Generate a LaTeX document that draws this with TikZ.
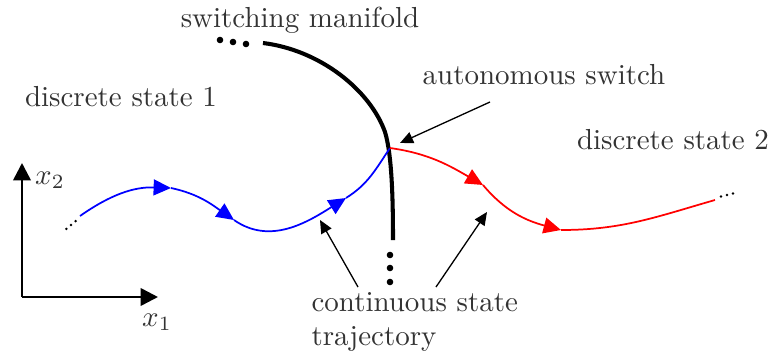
\documentclass[tikz,border=0pt]{standalone}
\usetikzlibrary{arrows.meta}
\begin{document}
\begin{tikzpicture}[x=0.01213cm,y=0.01213cm,
    lbl/.style={text=black!80},
    axis/.style={line width=0.9pt,-{Triangle[length=6pt,width=6pt]}},
    traj/.style={line width=0.6pt},
    tip/.style={-{Triangle[length=6pt,width=5.5pt]}},
    annot/.style={line width=0.45pt,-{Triangle[length=4.5pt,width=4pt]}},
    manifold/.style={line width=1.4pt}]
    \useasboundingbox (0,0) rectangle (771,350);

    % Cartesian axes
    \coordinate (O) at (22,53);
    \coordinate (xend) at (158,53);
    \coordinate (yend) at (22,187);
    \draw[axis] (O) -- (xend);
    \draw[axis] (O) -- (yend);
    \node[lbl] (xlbl) at (157,28) {$x_1$};
    \node[lbl] (ylbl) at (50,170) {$x_2$};

    % Switching manifold
    \draw[manifold] (263,307) .. controls (320,300) and (370,260) .. (385,218)
        .. controls (392,195) and (393,150) .. (393,110);
    \foreach \p in {(220,310),(233,308),(246,306),(390,95),(390,82),(390,68)}
        \fill \p circle (3.3);
    \node[lbl] (manlbl) at (300,330) {switching manifold};

    % Continuous state trajectory
    \coordinate (A) at (80,134);
    \coordinate (B) at (171,162);
    \coordinate (C) at (234,130);
    \coordinate (D) at (346,152);
    \coordinate (S) at (390,202);
    \coordinate (E) at (483,165);
    \coordinate (F) at (561,120);
    \coordinate (G) at (715,150);
    \draw[traj,blue,tip] (A) to[out=35,in=178] (B);
    \draw[traj,blue,tip] (B) to[out=-12,in=145] (C);
    \draw[traj,blue,tip] (C) to[out=-35,in=212] (D);
    \draw[traj,blue] (D) to[out=32,in=236] (S);
    \draw[traj,red,tip] (S) to[out=-8,in=150] (E);
    \draw[traj,red,tip] (E) to[out=-50,in=165] (F);
    \draw[traj,red] (F) to[out=0,in=196] (G);
    \foreach \p in {(66.4,121.1),(71,125),(75.6,128.9),(721,153.5),(727,155),(733,156.5)}
        \fill \p circle (1.4);

    % Labels
    \node[lbl] (st1) at (121,253) {discrete state 1};
    \node[lbl] (st2) at (673,210) {discrete state 2};
    \node[lbl] (autolbl) at (544,275) {autonomous switch};
    \node[lbl,anchor=west,align=left,inner sep=0pt] (trajlbl) at (311,28)
        {continuous state\\trajectory};

    % Annotation arrows
    \coordinate (a1) at (490,248);
    \coordinate (t1) at (358,63);
    \coordinate (t2) at (436,63);
    \draw[annot] (a1) -- (400,207);
    \draw[annot] (t1) -- (320,130);
    \draw[annot] (t2) -- (487,138);
\end{tikzpicture}
\end{document}
